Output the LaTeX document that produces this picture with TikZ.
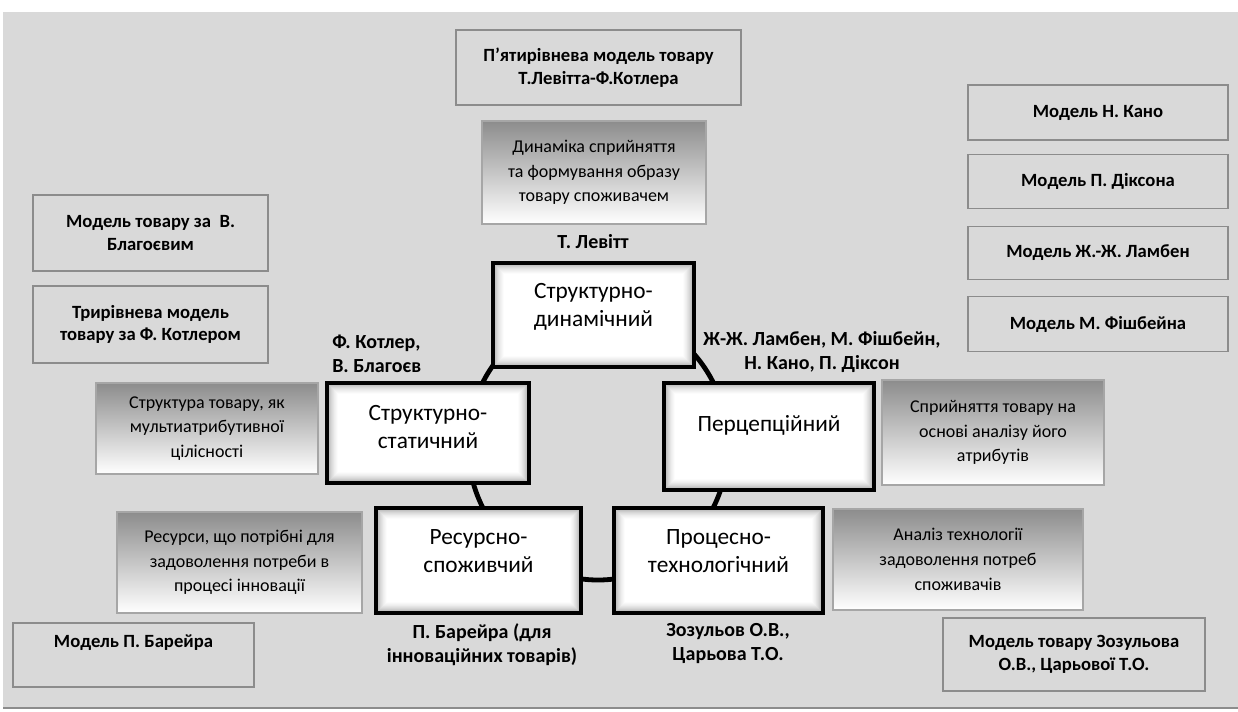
\documentclass[tikz,border=0pt]{standalone}
\usepackage{fontspec}
\setmainfont{Carlito}
\usepackage{tikz}
\usetikzlibrary{positioning,calc}
\definecolor{panel}{HTML}{D9D9D9}
\newdimen\px
\px=0.75pt

\begin{document}
\begin{tikzpicture}[
    x=0.75pt, y=-0.75pt,
    model/.style={
      rectangle,
      draw=black!45,
      fill=panel,
      line width=0.9pt,
      align=center,
      inner sep=2pt,
      font=\fontsize{14}{17}\selectfont\bfseries
    },
    modeltext/.style={align=center, inner sep=0pt, font=\fontsize{14}{17}\selectfont\bfseries},
    hint/.style={
      rectangle,
      draw=black!35,
      line width=0.8pt,
      top color=black!45,
      bottom color=white,
      align=center,
      inner sep=2pt,
      font=\fontsize{13.5}{18.5}\selectfont
    },
    core/.style={
      rectangle,
      draw=black,
      line width=2.4pt,
      fill=white
    },
    coretext/.style={align=center, inner sep=0pt, font=\fontsize{17.5}{21}\selectfont},
    who/.style={font=\fontsize{15}{18}\selectfont\bfseries, align=center, inner sep=0pt},
    ring/.style={line width=3.6pt, draw=black}
  ]

  % frame
  \useasboundingbox (0,0) rectangle (1238,711);
  \fill[panel] (3,12) rectangle (1238,708);
  \draw[black!45, line width=1.5pt] (3,708) -- (1238,708);

  % ring behind the approaches
  \coordinate (hub) at (598,445);
  \draw[ring] (hub) ellipse [x radius=130, y radius=135];

  % five approaches
  \node[core, minimum width=201\px, minimum height=104\px,
    label={[coretext, yshift=8\px]center:Структурно-\\динамічний}] (sd) at (593.5,315) {};
  \node[core, minimum width=202\px, minimum height=100\px,
    label={[coretext, yshift=6\px]center:Структурно-\\статичний}] (ss) at (428,433) {};
  \node[core, minimum width=210\px, minimum height=107\px,
    label={[coretext, yshift=11\px]center:Перцепційний}] (pc) at (769,436.5) {};
  \node[core, minimum width=205\px, minimum height=105\px,
    label={[coretext, yshift=9\px]center:Ресурсно-\\споживчий}] (rs) at (478.5,560.5) {};
  \node[core, minimum width=209\px, minimum height=105\px,
    label={[coretext, yshift=9\px]center:Процесно-\\технологічний}] (pt) at (718.5,560.5) {};

  % bevel inside the approach boxes
  \foreach \n in {sd,ss,pc,rs,pt}
    \foreach \i/\c in {4/24,5/20,6/16,7/13,8/10,9/7,10/5,11/3,12/1}
      \draw[black!\c, line width=1.1\px] ($(\n.north west)+(\i,\i)$) rectangle ($(\n.south east)+(-\i,-\i)$);

  % what each approach looks at
  \node[hint, minimum width=224\px, minimum height=103\px] (dyn) at (594,172.5) {Динаміка сприйняття\\та формування образу\\товару споживачем};
  \node[hint, minimum width=222\px, minimum height=91\px] (str) at (207,428.5) {Структура товару, як\\мультиатрибутивної\\цілісності};
  \node[hint, minimum width=222\px, minimum height=105\px] (per) at (993,432.5) {Сприйняття товару на\\основі аналізу його\\атрибутів};
  \node[hint, minimum width=245\px, minimum height=101\px] (res) at (239.5,562.5) {Ресурси, що потрібні для\\задоволення потреби в\\процесі інновації};
  \node[hint, minimum width=250\px, minimum height=101\px] (tech) at (958,559.5) {Аналіз технології\\задоволення потреб\\споживачів};

  % authors
  \node[who] (levitt) at (593,242) {Т. Левітт};
  \node[who, align=left, anchor=west] (kotler) at (332,354) {Ф. Котлер,\\В. Благоєв};
  \node[who] (lambin) at (822,352) {Ж-Ж. Ламбен, М. Фішбейн,\\Н. Кано, П. Діксон};
  \node[who] (barreyre) at (482,645) {П. Барейра (для\\інноваційних товарів)};
  \node[who] (zozul) at (728,644) {Зозульов О.В.,\\Царьова Т.О.};

  % models
  \node[model, minimum width=285\px, minimum height=75\px] (five) at (598.5,67.5) {П’ятирівнева модель товару\\Т.Левітта-Ф.Котлера};
  \node[model, minimum width=235\px, minimum height=76\px] (blag) at (150.5,233) {Модель товару за \ В.\\Благоєвим};
  \node[model, minimum width=235\px, minimum height=77\px] (three) at (150.5,324.5) {Трирівнева модель\\товару за Ф. Котлером};
  \node[model, minimum width=260\px, minimum height=55\px] (kano) at (1098,112.5) {Модель Н. Кано};
  \node[model, minimum width=260\px, minimum height=54\px, below=13\px of kano] (dixon) {Модель П. Діксона};
  \node[model, minimum width=260\px, minimum height=53\px, below=17\px of dixon] (lamb) {Модель Ж.-Ж. Ламбен};
  \node[model, minimum width=260\px, minimum height=55\px, below=16\px of lamb] (fish) {Модель М. Фішбейна};
  \node[model, minimum width=241\px, minimum height=64\px,
    label={[modeltext, yshift=12\px]center:Модель П. Барейра}] (barm) at (133.5,655) {};
  \node[model, minimum width=262\px, minimum height=73\px] (zozm) at (1074,654.5) {Модель товару Зозульова\\О.В., Царьової Т.О.};

\end{tikzpicture}
\end{document}
